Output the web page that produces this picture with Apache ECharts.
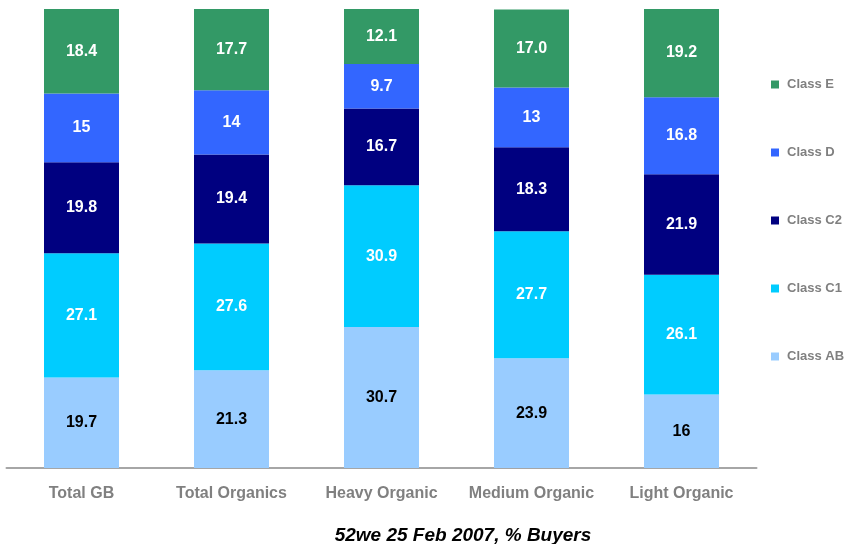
<!DOCTYPE html>
<html>
<head>
<meta charset="utf-8">
<script src="https://cdn.jsdelivr.net/npm/echarts@6/dist/echarts.min.js"></script>
<style>
  html, body { margin: 0; padding: 0; background: #fff; }
  #chart { width: 844px; height: 544px; }
</style>
</head>
<body>
<div id="chart"></div>
<script>
const categories = ["Total GB", "Total Organics", "Heavy Organic", "Medium Organic", "Light Organic"];
const classAB = [19.7, 21.3, 30.7, 23.9, 16];
const classC1 = [27.1, 27.6, 30.9, 27.7, 26.1];
const classC2 = [19.8, 19.4, 16.7, 18.3, 21.9];
const classD = [15, 14, 9.7, 13, 16.8];
const classE = [18.4, 17.7, 12.1, 17.0, 19.2];

const font = "Liberation Sans, Arial, sans-serif";

// one decimal except the whole numbers the source prints bare
const fmt = (p) => (p.value === 15 || p.value === 14 || p.value === 13 || p.value === 16) ? String(p.value) : p.value.toFixed(1);

const layer = (name, data, color, labelColor) => ({
  name,
  type: "bar",
  stack: "all",
  data,
  barWidth: "50%",
  itemStyle: { color },
  label: {
    show: true,
    formatter: fmt,
    color: labelColor,
    fontFamily: font,
    fontWeight: "bold",
    fontSize: 16,
  },
});

const chart = echarts.init(document.getElementById("chart"));
chart.setOption({
  animation: false,
  grid: { left: 6.5, right: 87.5, top: 9, bottom: 76 },
  title: {
    text: "52we 25 Feb 2007, % Buyers",
    left: 458,
    textAlign: "center",
    top: 521,
    textStyle: {
      fontFamily: font,
      fontStyle: "italic",
      fontWeight: "bold",
      fontSize: 19,
      color: "#000",
    },
  },
  legend: {
    orient: "vertical",
    left: 766,
    top: 73,
    itemWidth: 8,
    itemHeight: 8,
    itemGap: 55,
    icon: "rect",
    data: ["Class E", "Class D", "Class C2", "Class C1", "Class AB"],
    textStyle: {
      fontFamily: font,
      fontWeight: "bold",
      fontSize: 13,
      color: "#808080",
      padding: [0, 0, 0, 3],
    },
  },
  xAxis: {
    type: "category",
    data: categories,
    axisLine: { lineStyle: { color: "#a6a6a6", width: 2 } },
    axisTick: { show: false },
    axisLabel: {
      interval: 0,
      margin: 18,
      fontFamily: font,
      fontWeight: "bold",
      fontSize: 16,
      color: "#808080",
    },
  },
  yAxis: {
    type: "value",
    min: 0,
    max: 100,
    show: false,
  },
  series: [
    layer("Class AB", classAB, "#99ccff", "#000"),
    layer("Class C1", classC1, "#00ccff", "#fff"),
    layer("Class C2", classC2, "#000080", "#fff"),
    layer("Class D", classD, "#3366ff", "#fff"),
    layer("Class E", classE, "#339966", "#fff"),
  ],
});
</script>
</body>
</html>
